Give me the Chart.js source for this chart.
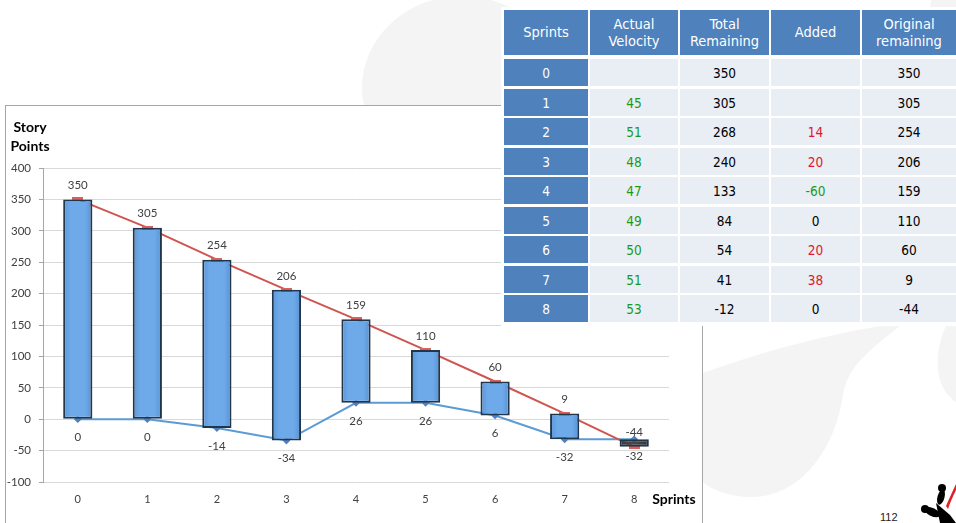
<!DOCTYPE html>
<html><head><meta charset="utf-8">
<script src="https://cdn.jsdelivr.net/npm/chart.js@4.4.1/dist/chart.umd.min.js"></script>
<style>
html,body{margin:0;padding:0;width:956px;height:523px;overflow:hidden;background:#fff;}
#bg{position:absolute;left:0;top:0;}
#frame{position:absolute;left:5px;top:105px;width:698px;height:430px;border:1px solid #a6a6a6;border-bottom:none;background:#fff;box-sizing:border-box;}
#chartBox{position:absolute;left:5px;top:105px;width:697px;height:418px;}
#tbl{position:absolute;left:0;top:0;width:956px;height:330px;pointer-events:none;}
.cell{position:absolute;display:flex;align-items:center;justify-content:center;text-align:center;
 font-family:"DejaVu Sans Condensed","DejaVu Sans",sans-serif;font-size:13.5px;line-height:16px;color:#000;background:#e9edf4;}
.hd{background:#4f81bd;color:#fff;font-size:14.5px;line-height:17px;}
.fc{background:#4f81bd;color:#fff;}
#tblbg{position:absolute;left:501px;top:7px;width:455px;height:319px;background:#fff;}
#page{position:absolute;left:880px;top:511px;font-family:"Liberation Sans",Arial,sans-serif;font-size:11px;color:#222;}
</style></head>
<body>
<svg id="bg" width="956" height="523">
 <ellipse cx="462" cy="88" rx="100" ry="92" fill="#f4f4f4"/>
 <ellipse cx="975" cy="10" rx="45" ry="40" fill="#f4f4f4"/>
 <path d="M700,374 C780,345 850,330 905,322 C870,350 848,365 843,395 C835,450 800,497 752,497 C728,497 712,490 700,480 Z" fill="#f4f4f4"/>
 <path d="M956,322 L948,322 C938,340 935,365 940,380 C944,392 950,398 956,402 Z" fill="#f4f4f4"/>
</svg>
<div id="frame"></div>
<div id="chartBox"><canvas id="c" width="697" height="418"></canvas></div>
<div id="tblbg"></div>
<div id="tbl"></div>
<div id="page">112</div>
<svg style="position:absolute;left:0;top:0" width="956" height="523">
 <path d="M946,506 C950,497 953,490 956,484 L956,490 C953,496 950,503 948,509 Z" fill="#e01f26"/>
 <ellipse cx="941" cy="497" rx="3.5" ry="8" transform="rotate(15 941 497)" fill="#000"/>
 <circle cx="942" cy="488" r="4" fill="#000"/>
 <ellipse cx="932" cy="512" rx="9" ry="4" transform="rotate(25 932 512)" fill="#000"/>
 <circle cx="925" cy="509" r="4" fill="#000"/>
 <path d="M936,503 L950,515 L956,523 L940,523 Z" fill="#000"/>
</svg>
<script>
// ---- data ----
const sprints = ['0','1','2','3','4','5','6','7','8'];
const originalRemaining = [350,305,254,206,159,110,60,9,-44];
const addedBaseline = [0,0,-14,-34,26,26,6,-32,-32];
const yTicksMin = -100, yTicksMax = 400, yTickStep = 50;

// table data
const tableHeaders = ['Sprints','Actual<br>Velocity','Total<br>Remaining','Added','Original<br>remaining'];
const actualVelocity = [null,45,51,48,47,49,50,51,53];
const totalRemaining = [350,305,268,240,133,84,54,41,-12];
const added = [null,null,14,20,-60,0,20,38,0];
const originalRemainingCol = [350,305,254,206,159,110,60,9,-44];

// ---- table ----
const colL = [504,590,680,771,862], colW = [84,88,89,89,94];
const tbl = document.getElementById('tbl');
function cell(x,y,w,h,html,cls,color){
  const d=document.createElement('div'); d.className='cell '+(cls||'');
  d.style.left=x+'px'; d.style.top=y+'px'; d.style.width=w+'px'; d.style.height=h+'px';
  if(color) d.style.color=color; d.innerHTML=html; tbl.appendChild(d);
}
tableHeaders.forEach((h,c)=>cell(colL[c],10,colW[c],45,h,'hd'));
const green='#1a9a1a', red='#e3142d';
sprints.forEach((s,r)=>{
  const y=Math.round(59+r*29.5), h=27;
  cell(colL[0],y,colW[0],h,s,'fc');
  cell(colL[1],y,colW[1],h,actualVelocity[r]==null?'':actualVelocity[r],'',green);
  cell(colL[2],y,colW[2],h,totalRemaining[r]);
  const a=added[r];
  cell(colL[3],y,colW[3],h,a==null?'':a,'',a==null||a===0?'#000':(a>0?red:green));
  cell(colL[4],y,colW[4],h,originalRemainingCol[r]);
});

// ---- chart ----
const redMarker=document.createElement('canvas'); redMarker.width=11; redMarker.height=4;
{const g=redMarker.getContext('2d'); g.fillStyle='#d9625d'; g.fillRect(0,0,11,4);}

function barFill(c){
  const i=c.dataIndex, inverted=originalRemaining[i]<addedBaseline[i];
  const chart=c.chart, xs=chart.scales && chart.scales.x;
  if(!xs || !chart.chartArea) return inverted?'#404040':'#6aa6e8';
  const x=xs.getPixelForValue(i), hw=14.5;
  const g=chart.ctx.createLinearGradient(x-hw,0,x+hw,0);
  if(inverted){g.addColorStop(0,'#3a3a3a');g.addColorStop(0.5,'#4a4a4a');g.addColorStop(1,'#333');}
  else{g.addColorStop(0,'#5a94d6');g.addColorStop(0.25,'#6eaaea');g.addColorStop(0.75,'#6eaaea');g.addColorStop(1,'#5790d2');}
  return g;
}

const labelPlugin={id:'labels',afterDatasetsDraw(chart){
  const ctx=chart.ctx, xs=chart.scales.x, ys=chart.scales.y;
  ctx.save(); ctx.font='11.5px Lato'; ctx.fillStyle='#404040'; ctx.textAlign='center'; ctx.textBaseline='middle';
  sprints.forEach((s,i)=>{
    const x=xs.getPixelForValue(i);
    const inverted=originalRemaining[i]<addedBaseline[i];
    const hi=Math.max(originalRemaining[i],addedBaseline[i]), lo=Math.min(originalRemaining[i],addedBaseline[i]);
    ctx.fillText(String(originalRemaining[i]),x,ys.getPixelForValue(hi)-(inverted?7:14));
    ctx.fillText(String(addedBaseline[i]),x,ys.getPixelForValue(lo)+(inverted?9:18));
  });
  ctx.font='bold 14px Lato'; ctx.fillStyle='#000';
  ctx.fillText('Story',25,22); ctx.fillText('Points',25,41);
  ctx.fillText('Sprints',669,394);
  ctx.restore();
}};

new Chart(document.getElementById('c'),{
  type:'bar',
  data:{labels:sprints,datasets:[
    {type:'bar',data:sprints.map((_,i)=>[addedBaseline[i],originalRemaining[i]]),
     backgroundColor:barFill,
     borderColor:'#22364b',borderWidth:2,borderSkipped:false,
     categoryPercentage:1,barPercentage:0.42,order:1},
    {type:'line',data:originalRemaining,borderColor:'#d0544f',borderWidth:2,pointStyle:redMarker,pointRadius:5,order:2},
    {type:'line',data:addedBaseline,borderColor:'#5b9bd5',borderWidth:2,pointStyle:'rectRot',pointRadius:2.5,
     pointBackgroundColor:'#4f81bd',pointBorderColor:'#4f81bd',order:2}
  ]},
  options:{
    responsive:false,animation:false,
    layout:{padding:{top:63,right:33,left:0,bottom:0}},
    plugins:{legend:{display:false},tooltip:{enabled:false}},
    scales:{
      x:{grid:{display:false,drawTicks:false},border:{display:false},
         ticks:{color:'#404040',font:{family:'Lato',size:11},padding:11},
         afterFit(s){s.height=41;}},
      y:{min:yTicksMin,max:yTicksMax,
         ticks:{stepSize:yTickStep,color:'#404040',font:{family:'Lato',size:11.5},padding:8},
         grid:{color:'#d9d9d9',tickLength:4,tickColor:'#a6a6a6'},border:{color:'#a6a6a6'},
         afterFit(s){s.width=38;}}
    }
  },
  plugins:[labelPlugin]
});
</script>
</body></html>
